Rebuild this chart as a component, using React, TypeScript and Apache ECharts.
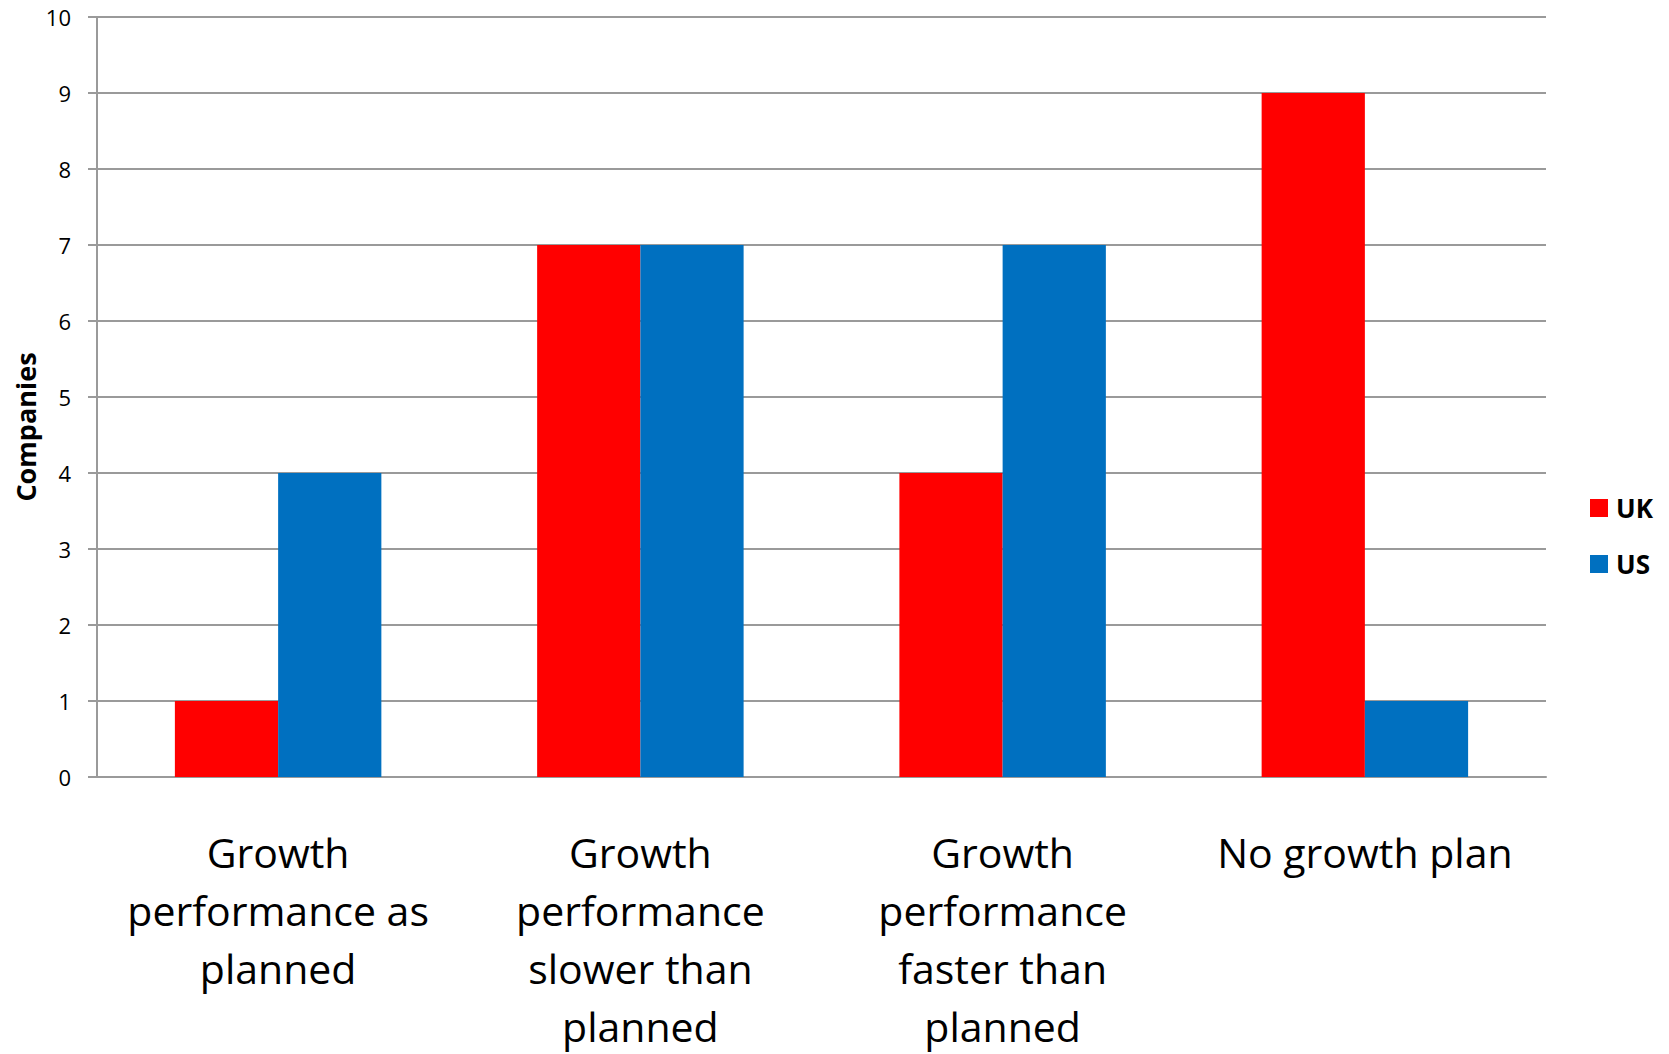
import React, { useEffect, useRef } from "react";
import * as echarts from "echarts";

// Companies by growth outcome, UK vs US
const categories = [
  "Growth\nperformance as\nplanned",
  "Growth\nperformance\nslower than\nplanned",
  "Growth\nperformance\nfaster than\nplanned",
  "No growth plan",
];
const ukValues = [1, 7, 4, 9];
const usValues = [4, 7, 7, 1];
const yTicks = { min: 0, max: 10, interval: 1 };
const yTitle = "Companies";

const FONT = "'Open Sans', 'Noto Sans', sans-serif";
const GRID_GRAY = "#9a9a9a";

export default function App() {
  const ref = useRef<HTMLDivElement>(null);

  useEffect(() => {
    if (!ref.current) return;
    const chart = echarts.init(ref.current, undefined, { renderer: "svg" });
    chart.setOption({
      animation: false,
      backgroundColor: "#ffffff",
      textStyle: { fontFamily: FONT },
      grid: {
        left: 97,
        right: 123,
        top: 17,
        bottom: 277,
        containLabel: false,
        outerBoundsMode: "none",
      },
      legend: {
        orient: "vertical",
        left: 1590,
        top: 495,
        padding: 0,
        itemWidth: 18,
        itemHeight: 18,
        itemGap: 30,
        icon: "rect",
        textStyle: {
          fontFamily: FONT,
          fontSize: 26,
          fontWeight: "bold",
          color: "#000",
          padding: [0, 0, 0, 3],
        },
        data: ["UK", "US"],
      },
      graphic: [
        {
          type: "text",
          x: 25,
          y: 427,
          rotation: Math.PI / 2,
          style: {
            text: yTitle,
            fontFamily: FONT,
            fontSize: 27,
            fontWeight: "bold",
            fill: "#000",
            align: "center",
            verticalAlign: "middle",
          },
        },
      ],
      xAxis: {
        type: "category",
        data: categories,
        axisLine: { show: true, lineStyle: { color: GRID_GRAY, width: 2 } },
        axisTick: { show: false },
        axisLabel: {
          interval: 0,
          margin: 46,
          fontFamily: FONT,
          fontSize: 41,
          lineHeight: 58,
          color: "#000",
          align: "center",
        },
      },
      yAxis: {
        type: "value",
        min: yTicks.min,
        max: yTicks.max,
        interval: yTicks.interval,
        axisLine: { show: true, lineStyle: { color: GRID_GRAY, width: 2 } },
        axisTick: { show: true, length: 9, inside: false, lineStyle: { color: GRID_GRAY, width: 2 } },
        axisLabel: { margin: 26, fontFamily: FONT, fontSize: 22, color: "#000" },
        splitLine: { show: true, lineStyle: { color: GRID_GRAY, width: 2 } },
      },
      series: [
        {
          name: "UK",
          type: "bar",
          data: ukValues,
          barGap: "0%",
          barCategoryGap: "43%",
          itemStyle: { color: "#ff0000" },
        },
        {
          name: "US",
          type: "bar",
          data: usValues,
          barGap: "0%",
          barCategoryGap: "43%",
          itemStyle: { color: "#0070c0" },
        },
      ],
    });
    return () => chart.dispose();
  }, []);

  return (
    <div
      ref={ref}
      style={{ position: "fixed", left: 0, top: 0, width: 1669, height: 1054, background: "#fff" }}
    />
  );
}
